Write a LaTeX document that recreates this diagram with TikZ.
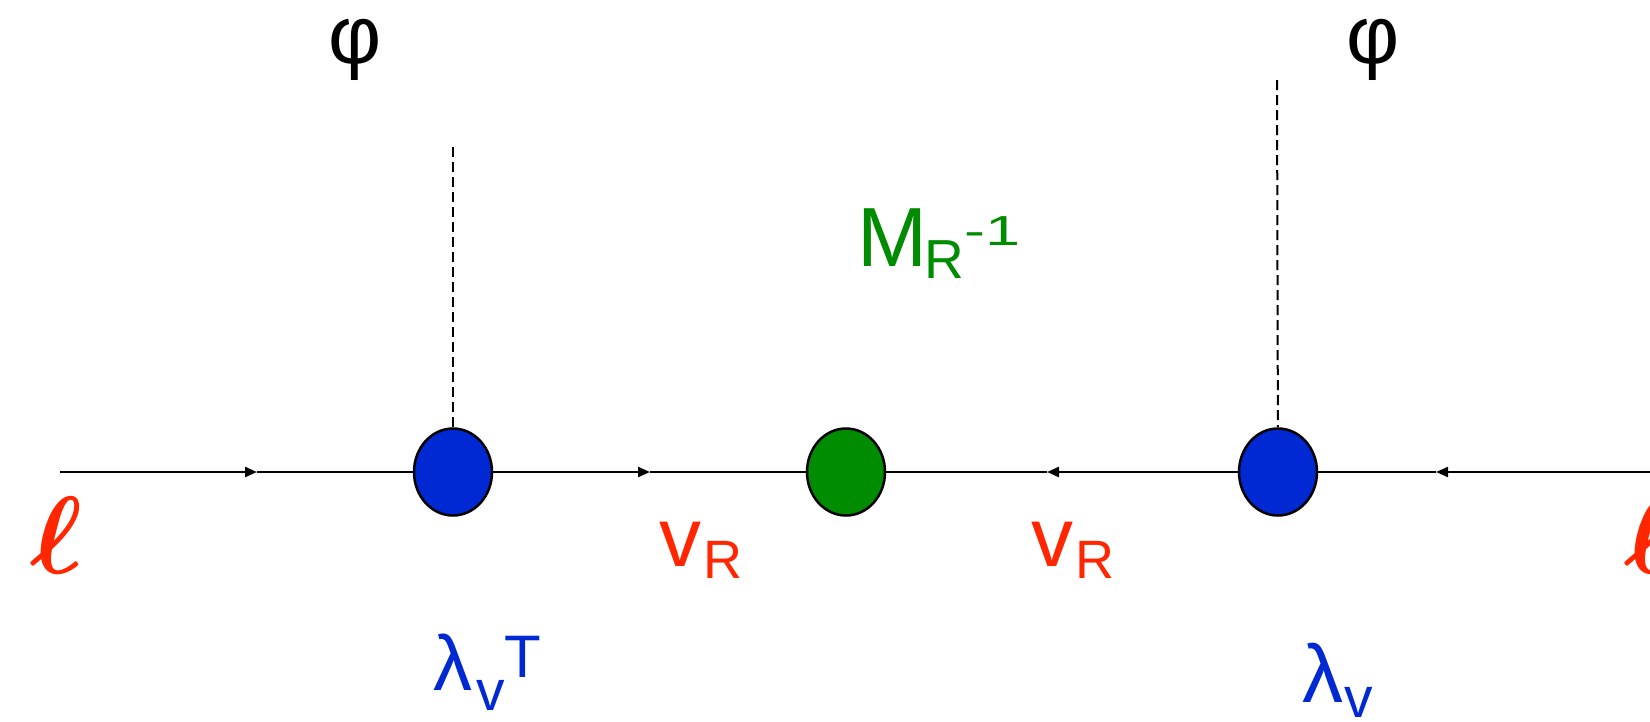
\documentclass[tikz,border=0pt]{standalone}
\usepackage{fontspec}
\setmainfont{Liberation Sans}
\usepackage{bm}
\usetikzlibrary{shapes.geometric,arrows.meta}
\definecolor{fred}{RGB}{255,38,0}
\definecolor{fblue}{RGB}{0,41,211}
\definecolor{fgreen}{RGB}{0,140,0}
\newcommand{\myfs}[1]{\fontsize{#1}{#1}\selectfont}
\begin{document}
\begin{tikzpicture}[x=1pt,y=-1pt,
  vtx/.style={ellipse,draw=black,line width=2.5pt,inner sep=0pt,minimum width=78pt,minimum height=87pt},
  fline/.style={line width=2.2pt},
  farrow/.style={fline,-{Triangle[length=12pt,width=10pt]}},
  scal/.style={line width=2pt,dash pattern=on 10pt off 5pt},
  lbl/.style={inner sep=0pt,outer sep=0pt}]
\useasboundingbox (0,0) rectangle (1650,721);
\node[vtx,fill=fblue] (b1) at (453,472) {};
\node[vtx,fill=fgreen] (g) at (846,472) {};
\node[vtx,fill=fblue] (b2) at (1278,472) {};
\coordinate (lstart) at (60,472);
\coordinate (rend) at (1652,472);
\coordinate (a1) at (257,472);
\coordinate (a2) at (650,472);
\coordinate (a3) at (1047,472);
\coordinate (a4) at (1436,472);
\coordinate (s1) at (453,147);
\coordinate (s2) at (1277,80);
\draw[farrow] (lstart) -- (a1);
\draw[fline] (a1) -- (b1);
\draw[farrow] (b1) -- (a2);
\draw[fline] (a2) -- (g);
\draw[farrow] (b2) -- (a3);
\draw[fline] (a3) -- (g);
\draw[farrow] (rend) -- (a4);
\draw[fline] (a4) -- (b2);
\draw[scal] (s1) -- (b1);
\draw[scal] (s2) -- (b2);
\node[lbl] (phi1) at (355,50) {\myfs{82}φ};
\node[lbl] (phi2) at (1373,50) {\myfs{82}φ};
\node[lbl,text=fred] (l1) at (57,535) {\scalebox{11}{$\bm{\ell}$}};
\node[lbl,text=fred] (l2) at (1651,535) {\scalebox{11}{$\bm{\ell}$}};
\node[lbl,anchor=base west,text=fred] (nu1) at (659,566) {\myfs{84}v\hspace{2pt}\raisebox{-12pt}{\myfs{54}R}};
\node[lbl,anchor=base west,text=fred] (nu2) at (1031,566) {\myfs{84}v\hspace{2pt}\raisebox{-12pt}{\myfs{54}R}};
\node[lbl,anchor=base west,text=fgreen] (minv) at (857,266) {\myfs{84}M\hspace{-2pt}\raisebox{-12pt}{\myfs{55}R}\raisebox{21pt}{\scalebox{1.5}[1]{\myfs{42}-1}}};
\node[lbl,anchor=base west,text=fblue] (lamT) at (433,690) {\myfs{78}λ\hspace{4pt}\raisebox{-20pt}{\myfs{57}v}\raisebox{13pt}{\myfs{60}T}};
\node[lbl,anchor=base west,text=fblue] (lam) at (1302,702) {\myfs{82}λ\hspace{1pt}\raisebox{-15pt}{\myfs{57}v}};
\end{tikzpicture}
\end{document}
